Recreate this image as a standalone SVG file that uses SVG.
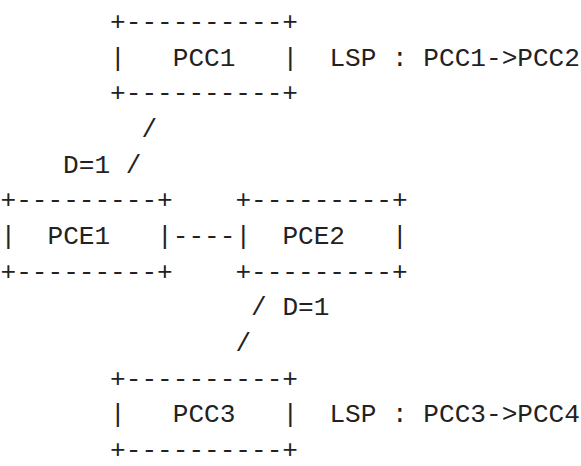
<svg xmlns="http://www.w3.org/2000/svg" width="581" height="466" viewBox="0 0 581 466">
<style>
text{font-family:"Liberation Mono","DejaVu Sans Mono",monospace;font-size:26.1px;fill:#222;}
</style>
<rect width="581" height="466" fill="#fff"/>
<g id="connectors">
<text x="141.4" y="136.8">/</text>
<text x="63.1" y="172.5">D=1</text>
<text x="125.8" y="172.5">/</text>
<text x="172.8" y="243.8">----</text>
<text x="251.1" y="315.2">/</text>
<text x="282.4" y="315.2">D=1</text>
<text x="235.4" y="350.8">/</text>
</g>
<g id="PCC1">
<text x="110.1" y="29.8">+----------+</text>
<text x="110.1" y="65.5">|</text>
<text x="172.8" y="65.5">PCC1</text>
<text x="282.4" y="65.5">|</text>
<text x="110.1" y="101.1">+----------+</text>
</g>
<g id="LSP1">
<text x="329.4" y="65.5">LSP : PCC1-&gt;PCC2</text>
</g>
<g id="PCE1">
<text x="0.5" y="208.2">+---------+</text>
<text x="0.5" y="243.8">|</text>
<text x="47.5" y="243.8">PCE1</text>
<text x="157.1" y="243.8">|</text>
<text x="0.5" y="279.5">+---------+</text>
</g>
<g id="PCE2">
<text x="235.4" y="208.2">+---------+</text>
<text x="235.4" y="243.8">|</text>
<text x="282.4" y="243.8">PCE2</text>
<text x="392.0" y="243.8">|</text>
<text x="235.4" y="279.5">+---------+</text>
</g>
<g id="PCC3">
<text x="110.1" y="386.5">+----------+</text>
<text x="110.1" y="422.2">|</text>
<text x="172.8" y="422.2">PCC3</text>
<text x="282.4" y="422.2">|</text>
<text x="110.1" y="457.8">+----------+</text>
</g>
<g id="LSP3">
<text x="329.4" y="422.2">LSP : PCC3-&gt;PCC4</text>
</g>
</svg>
